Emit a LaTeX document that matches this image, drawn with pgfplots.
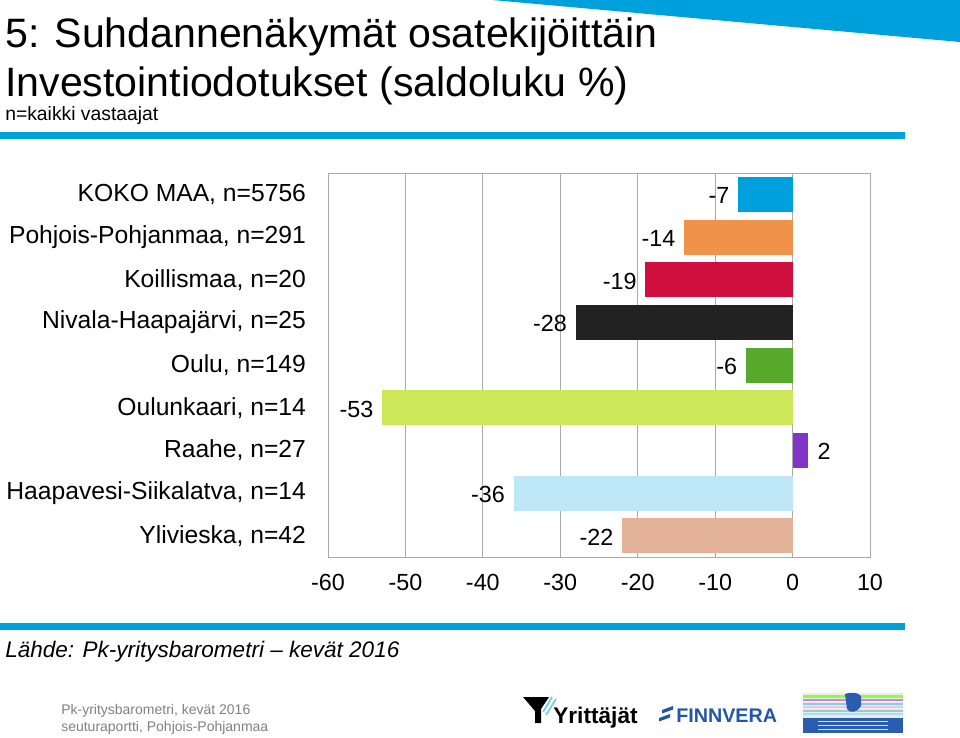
\documentclass[border=0pt]{standalone}
\usepackage{fontspec}
\setmainfont{Liberation Sans}
\usepackage{pgfplots}
\pgfplotsset{compat=1.18}
\definecolor{cblue}{HTML}{00A0DC}
\definecolor{corange}{HTML}{F0924A}
\definecolor{ccrimson}{HTML}{CF0F3E}
\definecolor{cblack}{HTML}{222222}
\definecolor{cgreen}{HTML}{57A82B}
\definecolor{clime}{HTML}{CDE65A}
\definecolor{cpurple}{HTML}{8034C8}
\definecolor{clightblue}{HTML}{BDE6F7}
\definecolor{csalmon}{HTML}{E4B298}
\definecolor{cgrid}{HTML}{AAAAAA}
\definecolor{finn}{HTML}{2256A8}
\definecolor{minblue}{HTML}{2A5DB0}
\pgfplotsset{
  negl/.style={every node near coord/.append style={anchor=east, xshift=-6.5pt}},
  posl/.style={every node near coord/.append style={anchor=west, xshift=7pt}},
}
\begin{document}
\begin{tikzpicture}
\begin{axis}[
  at={(246pt,-417.75pt)}, anchor=south west,
  scale only axis, width=406.5pt, height=288pt,
  xbar,
  every axis plot/.append style={bar shift=0pt, bar width=26.25pt, draw=none},
  xmin=-60, xmax=10, ymin=-0.5, ymax=8.5, y dir=reverse,
  xtick={-60,-50,...,10}, ytick={0,1,...,8},
  yticklabels={{KOKO MAA, n=5756},{Pohjois-Pohjanmaa, n=291},{Koillismaa, n=20},{Nivala-Haapajärvi, n=25},{Oulu, n=149},{Oulunkaari, n=14},{Raahe, n=27},{Haapavesi-Siikalatva, n=14},{Ylivieska, n=42}},
  xmajorgrids, major grid style={color=cgrid, line width=0.7pt},
  axis line style={cgrid, line width=0.7pt},
  major tick length=0pt,
  xticklabel style={font=\fontsize{17.5}{20}\selectfont, yshift=-9pt},
  yticklabel style={font=\fontsize{18.5}{21}\selectfont, xshift=-13pt},
  /pgf/number format/assume math mode=true,
  nodes near coords,
  every node near coord/.append style={font=\fontsize{17.5}{20}\selectfont, black, inner xsep=0pt, yshift=-1pt, /pgf/number format/assume math mode=true},
]
\addplot[fill=cblue, negl] coordinates {(-7,0)};
\addplot[fill=corange, negl] coordinates {(-14,1)};
\addplot[fill=ccrimson, negl] coordinates {(-19,2)};
\addplot[fill=cblack, negl] coordinates {(-28,3)};
\addplot[fill=cgreen, negl] coordinates {(-6,4)};
\addplot[fill=clime, negl] coordinates {(-53,5)};
\addplot[fill=cpurple, posl] coordinates {(2,6)};
\addplot[fill=clightblue, negl] coordinates {(-36,7)};
\addplot[fill=csalmon, negl] coordinates {(-22,8)};
\end{axis}
\begin{scope}[x=0.75pt,y=-0.75pt]
  % top wedge and rules
  \fill[cblue] (492,0) -- (960,0) -- (960,42) -- cycle;
  \fill[cblue] (0,132) rectangle (905,139);
  \fill[cblue] (0,623) rectangle (905,630);
  % titles
  \node[anchor=base west, inner sep=0pt, font=\fontsize{30.8}{34}\selectfont] at (5,48) {5: Suhdannenäkymät osatekijöittäin};
  \node[anchor=base west, inner sep=0pt, font=\fontsize{30.8}{34}\selectfont] at (5,97) {Investointiodotukset (saldoluku \%)};
  \node[anchor=base west, inner sep=0pt, font=\fontsize{14.5}{16}\selectfont] at (5,121) {n=kaikki vastaajat};
  % source
  \node[anchor=base west, inner sep=0pt, font=\fontsize{16.9}{18}\selectfont\itshape] at (5,657) {Lähde: Pk-yritysbarometri – kevät 2016};
  \node[anchor=base west, inner sep=0pt, font=\fontsize{10.5}{12}\selectfont, text=gray] at (61,714) {Pk-yritysbarometri, kevät 2016};
  \node[anchor=base west, inner sep=0pt, font=\fontsize{10.5}{12}\selectfont, text=gray] at (61,731) {seuturaportti, Pohjois-Pohjanmaa};
  % Yrittajat logo
  \fill[black] (523,697) -- (549,697) -- (541,709) -- (541,723) -- (535,723) -- (535,711) -- cycle;
  \draw[cblue!55, line width=1.3pt] (552,697) -- (543,712);
  \draw[cblue!55, line width=1.3pt] (556,699) -- (546,715);
  \node[anchor=base west, inner sep=0pt, font=\fontsize{17}{19}\selectfont\bfseries] at (553,723) {Yrittäjät};
  % Finnvera logo
  \fill[finn] (659,718) -- (670,714) -- (670,717.5) -- (659,721.5) -- cycle;
  \fill[finn] (662,710) -- (673,706) -- (673,709.5) -- (662,713.5) -- cycle;
  \node[anchor=base west, inner sep=0pt, font=\fontsize{14.8}{17}\selectfont\bfseries, text=finn] at (676,722) {FINNVERA};
  % ministry logo
  \fill[white!92!black] (803,693) rectangle (903,718);
  \fill[green!55!yellow!80] (803,695) rectangle (903,697.5);
  \fill[violet!45] (803,699) rectangle (903,701);
  \fill[cblue!50] (803,702.5) rectangle (903,704.5);
  \fill[magenta!25] (803,706) rectangle (903,708);
  \fill[teal!40] (803,709.5) rectangle (903,711.5);
  \fill[cblue!35] (803,713) rectangle (903,715);
  \fill[minblue] (845,694) .. controls (850,692) and (858,692) .. (861,696) -- (861,706) .. controls (858,712) and (850,714) .. (847,709) -- cycle;
  \fill[minblue] (803,718) rectangle (903,733);
  \foreach \yy in {721,725,729} \fill[white!80!minblue] (818,\yy) rectangle (888,\yy+1);
\end{scope}
\pgfresetboundingbox
\path[use as bounding box] (0,0) rectangle (720pt,-553.5pt);
\end{tikzpicture}
\end{document}
